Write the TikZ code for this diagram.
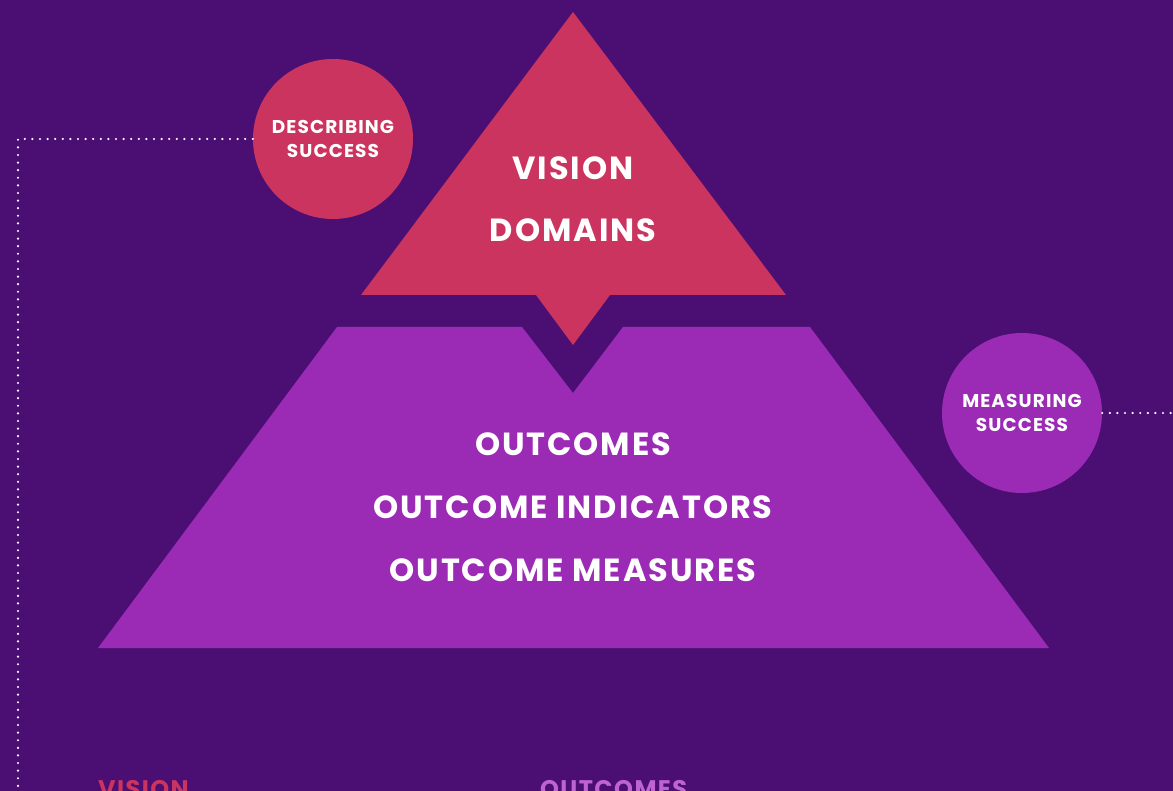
\documentclass[tikz,border=0pt]{standalone}
\usepackage{fontspec}
\setmainfont{Poppins}[LetterSpace=6]
\usepackage{tikz}

\definecolor{bgpurple}{RGB}{75,15,115}
\definecolor{visionred}{RGB}{204,52,96}
\definecolor{outcomepurple}{RGB}{155,42,180}
\definecolor{lightpurple}{RGB}{190,100,210}

\tikzset{
  bigtext/.style={text=white,font=\bfseries\fontsize{32}{32}\selectfont},
  bubble/.style={circle,minimum size=160pt,inner sep=0pt,align=center,
    text=white,font=\bfseries\fontsize{18.5}{24}\selectfont},
  heading/.style={anchor=base west,inner sep=0pt,font=\bfseries\fontsize{24}{24}\selectfont},
  dots/.style={white,line width=2.4pt,line cap=round,dash pattern=on 0pt off 7.6pt}
}

\begin{document}
\begin{tikzpicture}[x=1pt,y=-1pt]
\useasboundingbox (0,0) rectangle (1173,791);
\clip (0,0) rectangle (1173,791);
\fill[bgpurple] (0,0) rectangle (1173,791);
% pyramid
\fill[visionred] (573,12) -- (786,295) -- (610,295) -- (573,345) -- (536,295) -- (361,295) -- cycle;
\fill[outcomepurple] (337,327) -- (522,327) -- (573,393) -- (623,327) -- (810,327)
  -- (1049,648) -- (98,648) -- cycle;
\node [bigtext] (vision) at (573,168) {VISION};
\node [bigtext] (domains) at (573,230) {DOMAINS};
\node [bigtext] (outcomes) at (573,444) {OUTCOMES};
\node [bigtext] (indicators) at (573,507) {OUTCOME INDICATORS};
\node [bigtext] (measures) at (573,570) {OUTCOME MEASURES};
% bubbles
\node [bubble,fill=visionred] (describing) at (333,139) {DESCRIBING\\SUCCESS};
\node [bubble,fill=outcomepurple] (measuring) at (1022,413) {MEASURING\\SUCCESS};
\coordinate (corner) at (18,139);
\coordinate (down) at (18,800);
\coordinate (right) at (1180,413);
\draw [dots] (describing.west) -- (corner) -- (down);
\draw [dots] (measuring.east) -- (right);
% headings below
\node [heading,text=visionred] (visionhead) at (98,797) {VISION};
\node [heading,text=lightpurple] (outcomeshead) at (540,797) {OUTCOMES};
\end{tikzpicture}
\end{document}
